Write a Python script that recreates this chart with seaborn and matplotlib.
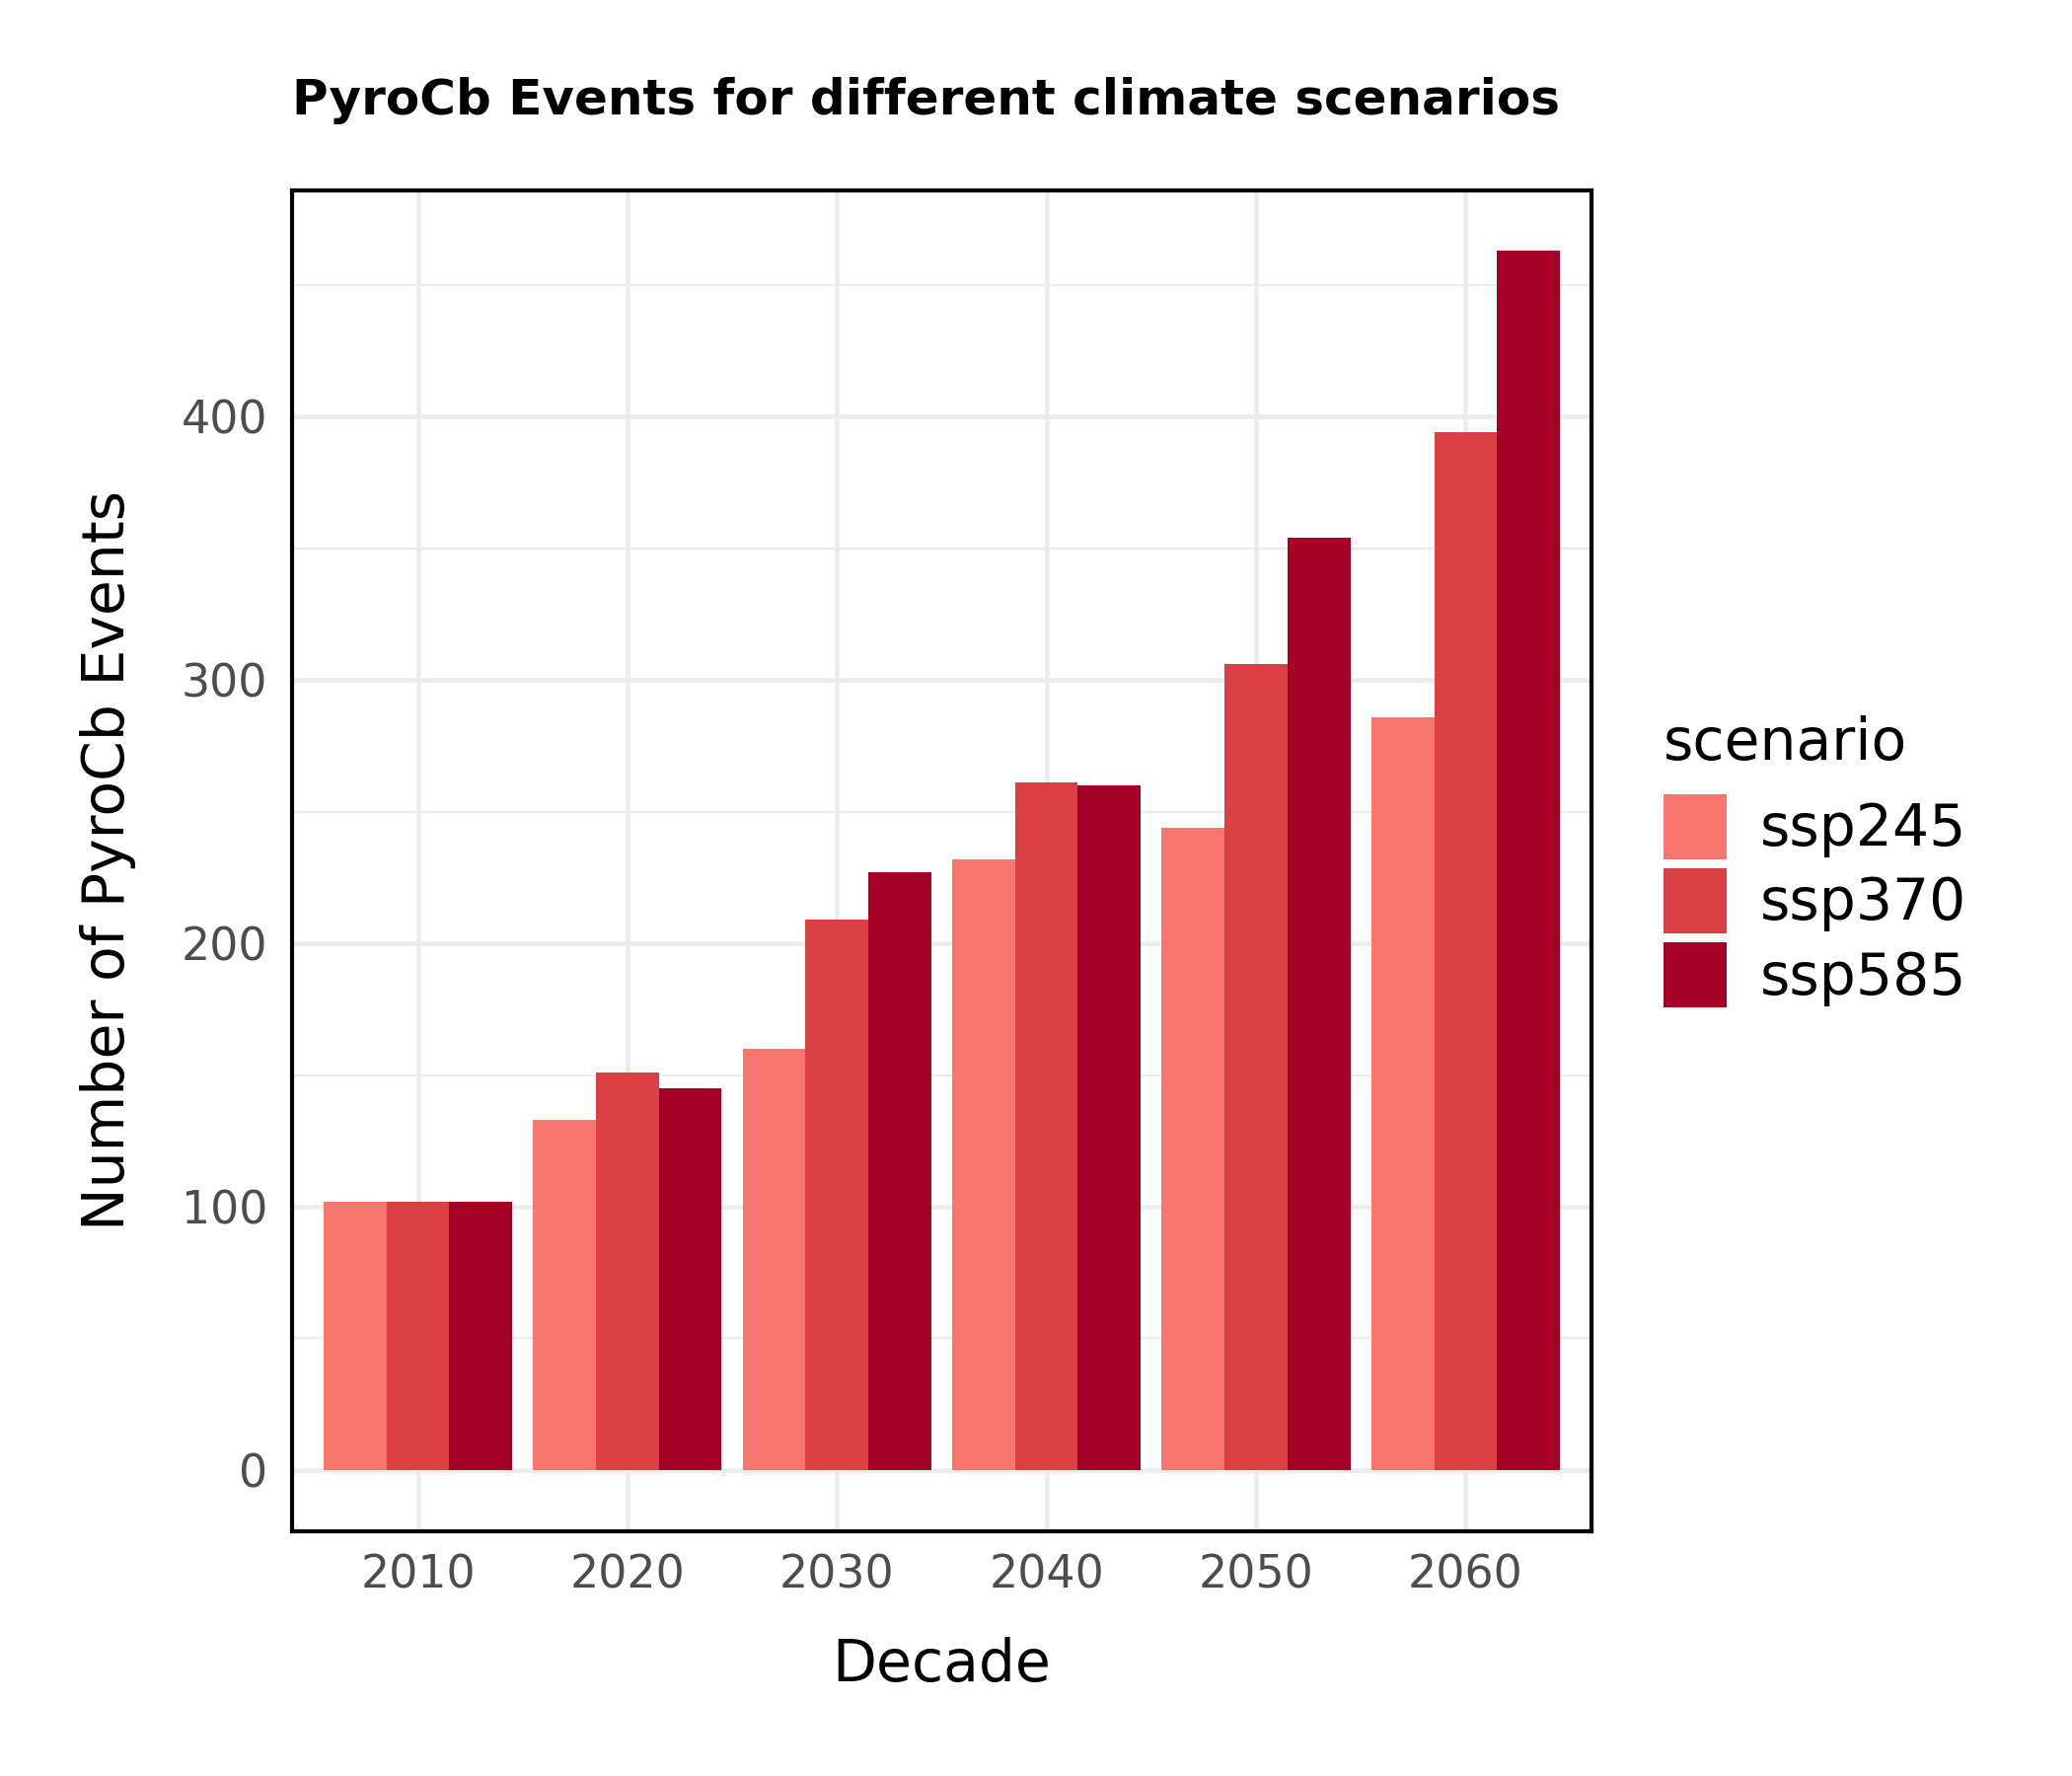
import matplotlib
matplotlib.use("Agg")
import matplotlib.pyplot as plt
import seaborn as sns
import pandas as pd
from matplotlib.ticker import MultipleLocator

# values
decades = ["2010", "2020", "2030", "2040", "2050", "2060"]
scenarios = ["ssp245", "ssp370", "ssp585"]
ssp245 = [102, 133, 160, 232, 244, 286]
ssp370 = [102, 151, 209, 261, 306, 394]
ssp585 = [102, 145, 227, 260, 354, 463]
colors = ["#F8766D", "#DA4043", "#A50026"]

df = pd.DataFrame({
    "decade": decades * 3,
    "scenario": [s for s in scenarios for _ in decades],
    "events": ssp245 + ssp370 + ssp585,
})

sns.set_theme(style="white")
plt.rcParams["font.family"] = ["DejaVu Sans"]
plt.rcParams["text.color"] = "black"
plt.rcParams["axes.labelcolor"] = "black"

fig = plt.figure(figsize=(7, 6), dpi=300)
ax = fig.add_axes([0.141, 0.138, 0.627, 0.755])

sns.barplot(
    data=df, x="decade", y="events", hue="scenario",
    order=decades, hue_order=scenarios, palette=colors,
    width=0.9, gap=0, saturation=1, edgecolor="none", linewidth=0,
    errorbar=None, ax=ax,
)

ax.set_xlim(-0.6, len(decades) - 0.4)
ymax = max(ssp245 + ssp370 + ssp585)
ax.set_ylim(-0.05 * ymax, 1.05 * ymax)

ax.yaxis.set_major_locator(MultipleLocator(100))
ax.yaxis.set_minor_locator(MultipleLocator(50))
ax.set_axisbelow(True)
ax.grid(which="major", color="#EBEBEB", linewidth=1.1)
ax.grid(which="minor", axis="y", color="#EBEBEB", linewidth=0.55)
ax.tick_params(which="both", length=0, labelsize=11, labelcolor="#4D4D4D", pad=6)
ax.tick_params(axis="x", pad=5.5)

for sp in ax.spines.values():
    sp.set_visible(True)
    sp.set_color("black")
    sp.set_linewidth(1.0)

ax.set_xlabel("Decade", fontsize=14, labelpad=9.5)
ax.set_ylabel("Number of PyroCb Events", fontsize=14, labelpad=11)

sns.move_legend(
    ax, "center left",
    bbox_to_anchor=(0.803, 0.515), bbox_transform=fig.transFigure,
    frameon=False, title="scenario", fontsize=14, title_fontsize=14,
    handlelength=1.1, handleheight=1.35, labelspacing=0.165,
    handletextpad=0.57, borderpad=0, borderaxespad=0, alignment="left",
)
leg = ax.get_legend()
leg._legend_box.sep = 5.5

fig.text(296 / 2100, 1 - 102 / 1800, "PyroCb Events for different climate scenarios",
         fontsize=12, fontweight="bold", ha="left", va="center")

fig.savefig("out.png", dpi=300)
